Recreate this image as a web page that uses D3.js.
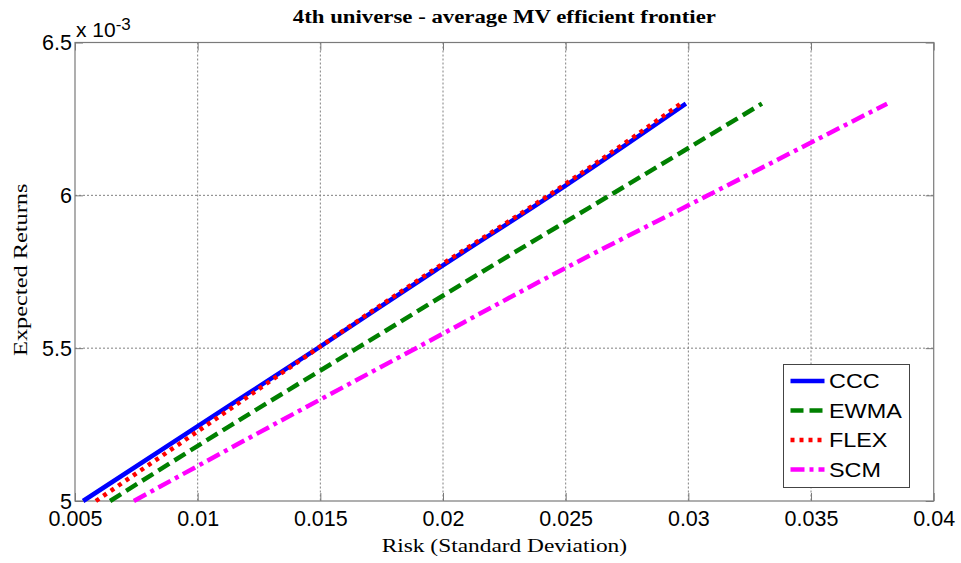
<!DOCTYPE html>
<html>
<head>
<meta charset="utf-8">
<script src="https://cdn.jsdelivr.net/npm/d3@7"></script>
<style>
  body { margin: 0; background: #fff; }
  svg { display: block; }
</style>
</head>
<body>
<div id="chart"></div>
<script>
// Expected return levels (x 10^-3) at which the risk of each frontier was read
const muLevels = [5.0, 5.25, 5.5, 5.75, 6.0, 6.3];

// Risk (standard deviation) per frontier at those return levels
const cccRisk  = [0.00533, 0.0101, 0.0149, 0.0196, 0.0244, 0.0299];
const ewmaRisk = [0.00643, 0.0114, 0.0165, 0.0216, 0.0268, 0.0330];
const flexRisk = [0.00585, 0.0104, 0.0149, 0.0195, 0.0243, 0.0297];
const scmRisk  = [0.0074, 0.0131, 0.0189, 0.0247, 0.0308, 0.0381];

const seriesNames = ['CCC', 'EWMA', 'FLEX', 'SCM'];

const xTicks = [0.005, 0.01, 0.015, 0.02, 0.025, 0.03, 0.035, 0.04];
const yTicks = [5, 5.5, 6, 6.5];

const W = 961, H = 563;
const margin = { top: 42.5, right: 27.3, bottom: 62, left: 75 };
const width = W - margin.left - margin.right;
const height = H - margin.top - margin.bottom;

const sans = '"Liberation Sans", Arial, sans-serif';
const serif = '"Liberation Serif", "Times New Roman", serif';

const svg = d3.select('#chart')
    .append('svg')
    .attr('width', W)
    .attr('height', H);

const g = svg.append('g')
    .attr('transform', `translate(${margin.left},${margin.top})`);

const x = d3.scaleLinear().domain([0.005, 0.04]).range([0, width]);
const y = d3.scaleLinear().domain([5, 6.5]).range([height, 0]);

// grid
g.selectAll('.vgrid')
    .data(xTicks.slice(1, -1))
    .enter()
    .append('line')
    .attr('x1', d => x(d)).attr('x2', d => x(d))
    .attr('y1', 0).attr('y2', height)
    .attr('stroke', '#808080')
    .attr('stroke-width', 1)
    .attr('stroke-dasharray', '2,2');

g.selectAll('.hgrid')
    .data(yTicks.slice(1, -1))
    .enter()
    .append('line')
    .attr('x1', 0).attr('x2', width)
    .attr('y1', d => y(d)).attr('y2', d => y(d))
    .attr('stroke', '#808080')
    .attr('stroke-width', 1)
    .attr('stroke-dasharray', '2,2');

// axes (ticks inside, on all four sides)
const xAxis = g.append('g')
    .attr('transform', `translate(0,${height})`)
    .call(d3.axisBottom(x).tickValues(xTicks).tickFormat(d => String(d)).tickSize(-8).tickPadding(10));
g.append('g')
    .call(d3.axisTop(x).tickValues(xTicks).tickFormat('').tickSize(-8));

const yAxis = g.append('g')
    .call(d3.axisLeft(y).tickValues(yTicks).tickFormat(d => String(d)).tickSize(-8).tickPadding(3));
g.append('g')
    .attr('transform', `translate(${width},0)`)
    .call(d3.axisRight(y).tickValues(yTicks).tickFormat('').tickSize(-8));

g.selectAll('.domain').remove();
g.selectAll('.tick line').attr('stroke', '#7a7a7a');

[xAxis, yAxis].forEach(a => {
    a.selectAll('text')
        .attr('font-family', sans)
        .attr('font-size', '21.5px')
        .attr('fill', '#000');
});
xAxis.selectAll('text').attr('dy', '0.71em');
yAxis.selectAll('text').attr('dy', '0.33em');

// box
g.append('rect')
    .attr('x', 0).attr('y', 0)
    .attr('width', width).attr('height', height)
    .attr('fill', 'none')
    .attr('stroke', '#7a7a7a')
    .attr('stroke-width', 1.2);

// exponent label
const expo = svg.append('text')
    .attr('x', margin.left + 1)
    .attr('y', 37)
    .attr('font-family', sans)
    .attr('font-size', '21px')
    .attr('fill', '#000');
expo.append('tspan').text('x 10');
expo.append('tspan').attr('dy', -7).attr('font-size', '17px').text('-3');

// lines
const styles = [
    { risk: cccRisk,  color: '#0000ff', dash: null },
    { risk: ewmaRisk, color: '#008000', dash: '13,6' },
    { risk: flexRisk, color: '#ff0000', dash: '4,5' },
    { risk: scmRisk,  color: '#ff00ff', dash: '14,5,4,5' }
];

const line = d3.line()
    .x(d => x(d[0]))
    .y(d => y(d[1]))
    .curve(d3.curveMonotoneY);

g.selectAll('.frontier')
    .data(styles)
    .enter()
    .append('path')
    .attr('d', s => line(s.risk.map((r, i) => [r, muLevels[i]])))
    .attr('fill', 'none')
    .attr('stroke', s => s.color)
    .attr('stroke-width', 4.5)
    .attr('stroke-dasharray', s => s.dash);

// legend
const lg = svg.append('g').attr('transform', 'translate(783.5,364.5)');
lg.append('rect')
    .attr('width', 126).attr('height', 123)
    .attr('fill', '#fff')
    .attr('stroke', '#444')
    .attr('stroke-width', 1);

const rows = lg.selectAll('.row')
    .data(styles)
    .enter()
    .append('g')
    .attr('transform', (d, i) => `translate(0,${16.5 + i * 29.5})`);

rows.append('line')
    .attr('x1', 7).attr('x2', 41)
    .attr('stroke', d => d.color)
    .attr('stroke-width', 4.5)
    .attr('stroke-dasharray', d => d.dash);

rows.append('text')
    .attr('transform', 'translate(45.5,0) scale(1.2,1)')
    .attr('dy', '0.36em')
    .attr('font-family', sans)
    .attr('font-size', '19.5px')
    .attr('fill', '#000')
    .text((d, i) => seriesNames[i]);

// titles
svg.append('text')
    .attr('transform', `translate(${margin.left + width / 2},23) scale(1.2,1)`)
    .attr('text-anchor', 'middle')
    .attr('font-family', serif)
    .attr('font-weight', 'bold')
    .attr('font-size', '19px')
    .text('4th universe - average MV efficient frontier');

svg.append('text')
    .attr('transform', `translate(${margin.left + width / 2},552) scale(1.2,1)`)
    .attr('text-anchor', 'middle')
    .attr('font-family', serif)
    .attr('font-size', '19.5px')
    .text('Risk (Standard Deviation)');

svg.append('text')
    .attr('transform', `translate(27,${margin.top + height / 2 - 2}) rotate(-90) scale(1.25,1)`)
    .attr('text-anchor', 'middle')
    .attr('font-family', serif)
    .attr('font-size', '19.5px')
    .text('Expected Returns');
</script>
</body>
</html>
